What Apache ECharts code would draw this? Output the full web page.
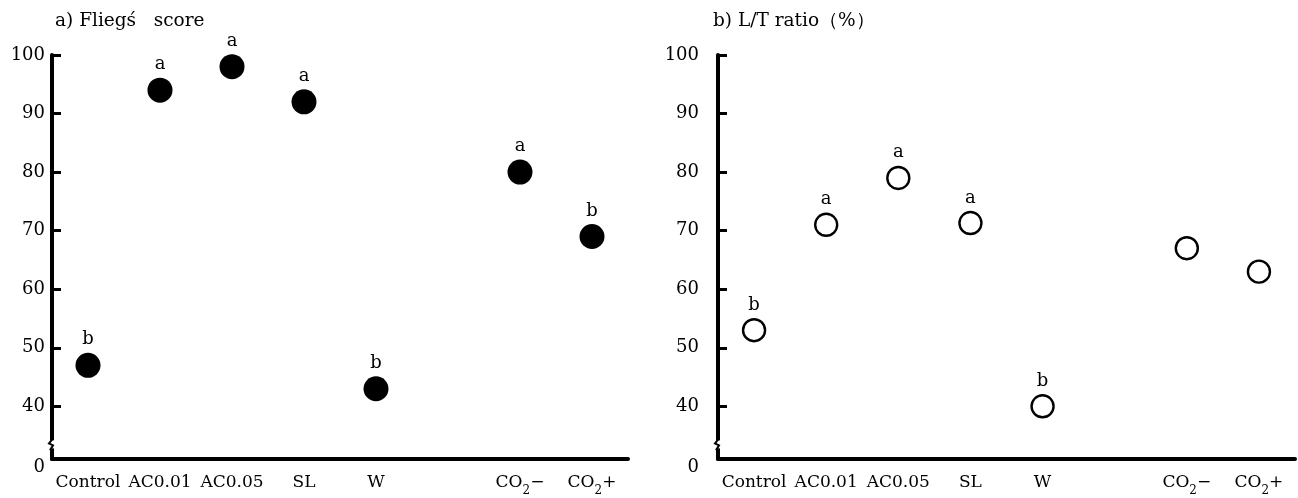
<!DOCTYPE html>
<html>
<head>
<meta charset="utf-8">
<script src="https://cdn.jsdelivr.net/npm/echarts@6/dist/echarts.min.js"></script>
<style>
  html, body { margin: 0; padding: 0; background: #fff; }
  #main { width: 1298px; height: 498px; }
</style>
</head>
<body>
<div id="main"></div>
<script>
// treatments (the empty slot is the gap between W and the CO2 pair)
var categories = ['Control', 'AC0.01', 'AC0.05', 'SL', 'W', '', 'CO2\u2212', 'CO2+'];

// a) Flieg's score
var fliegScore = [47, 94, 98, 92, 43, '-', 80, 69];
var fliegLetters = ['b', 'a', 'a', 'a', 'b', '', 'a', 'b'];

// b) L/T ratio (%)
var ltRatio = [53, 71, 79, 71.3, 40, '-', 67, 63];
var ltLetters = ['b', 'a', 'a', 'a', 'b', '', '', ''];

// y ticks; the bottom of the axis is broken and labelled 0
var yTicks = [40, 50, 60, 70, 80, 90, 100];
var yBottom = 31;

var FONT = 'DejaVu Serif';

var chart = echarts.init(document.getElementById('main'));

var grids = [
    { left: 52, top: 55, width: 576, height: 404 },
    { left: 718, top: 55, width: 577, height: 404 }
];

function xAxis (i) {
    return {
        type: 'category',
        gridIndex: i,
        data: categories,
        boundaryGap: true,
        axisLine: { lineStyle: { color: '#000', width: 4 } },
        axisTick: { show: false },
        axisLabel: {
            interval: 0,
            margin: 15,
            color: '#000',
            fontFamily: FONT,
            formatter: function (v) {
                if (v.indexOf('CO2') === 0) {
                    return '{n|CO}{s|2}{n|' + v.slice(3) + '}';
                }
                return '{n|' + v + '}';
            },
            rich: {
                n: { fontFamily: FONT, fontSize: 17, lineHeight: 20, verticalAlign: 'top', color: '#000' },
                s: { fontFamily: FONT, fontSize: 12, lineHeight: 14, padding: [11, 0, 0, 0], verticalAlign: 'top', color: '#000' }
            }
        },
        splitLine: { show: false }
    };
}

function yAxis (i, margin) {
    return {
        type: 'value',
        gridIndex: i,
        min: yBottom,
        max: 100,
        axisLine: { show: true, lineStyle: { color: '#000', width: 4 } },
        axisTick: {
            show: true,
            inside: true,
            length: 9,
            customValues: yTicks,
            lineStyle: { color: '#000', width: 3 }
        },
        axisLabel: {
            margin: margin,
            color: '#000',
            fontFamily: FONT,
            fontSize: 18,
            customValues: [yBottom].concat(yTicks),
            formatter: function (v) {
                return v === yBottom ? '{z|0}' : String(v);
            },
            rich: {
                z: { fontFamily: FONT, fontSize: 18, color: '#000', padding: [16, 0, 0, 0] }
            }
        },
        splitLine: { show: false }
    };
}

function letterLabel (letters) {
    return {
        show: true,
        position: 'top',
        distance: 4,
        color: '#000',
        fontFamily: FONT,
        fontSize: 18,
        formatter: function (p) { return letters[p.dataIndex] || ''; }
    };
}

chart.setOption({
    backgroundColor: '#fff',
    animation: false,
    title: [
        { text: 'a) Flieg\u015b   score', left: 50, top: 7,
          textStyle: { fontFamily: FONT, fontSize: 18.5, fontWeight: 'normal', color: '#000' } },
        { text: 'b) L/T ratio\uff08%\uff09', left: 708, top: 7,
          textStyle: { fontFamily: FONT, fontSize: 18.5, fontWeight: 'normal', color: '#000' } }
    ],
    grid: grids,
    xAxis: [xAxis(0), xAxis(1)],
    yAxis: [yAxis(0, 7), yAxis(1, 19)],
    series: [
        {
            name: "Flieg's score",
            type: 'scatter',
            xAxisIndex: 0,
            yAxisIndex: 0,
            symbol: 'circle',
            symbolSize: 25,
            itemStyle: { color: '#000', opacity: 1 },
            label: letterLabel(fliegLetters),
            data: fliegScore
        },
        {
            name: 'L/T ratio',
            type: 'scatter',
            xAxisIndex: 1,
            yAxisIndex: 1,
            symbol: 'circle',
            symbolSize: 22,
            itemStyle: { color: '#fff', borderColor: '#000', borderWidth: 2.4, opacity: 1 },
            label: letterLabel(ltLetters),
            data: ltRatio
        }
    ]
});

// little break marks on the y axes, just above the bottom
var marks = [];
[0, 1].forEach(function (i) {
    var x = grids[i].left;
    var y = chart.convertToPixel({ yAxisIndex: i }, 33.5);
    marks.push({
        type: 'rect',
        shape: { x: x - 3, y: y - 4, width: 6, height: 8 },
        style: { fill: '#fff' },
        z: 100
    });
    marks.push({
        type: 'polyline',
        shape: { points: [[x + 1, y - 6], [x - 3, y - 1], [x + 1, y + 1], [x - 2, y + 6]] },
        style: { stroke: '#000', lineWidth: 2, fill: null },
        z: 101
    });
});
chart.setOption({ graphic: marks });
</script>
</body>
</html>
